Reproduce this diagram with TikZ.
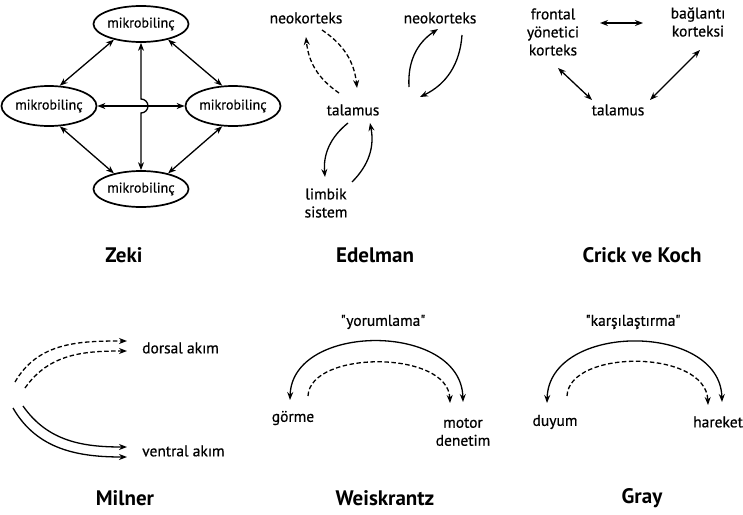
\documentclass[tikz,border=0pt]{standalone}
\usepackage{fontspec}
\setmainfont{PT Sans}
\newfontfamily\medfont{PT Sans}[FakeBold=0.6]
\usetikzlibrary{arrows.meta,shapes.geometric}
\begin{document}
\begin{tikzpicture}[x=1pt,y=1pt,
  tip/.tip={Stealth[length=8pt,width=6pt]},
  arr/.style={line width=1.3pt,-tip},
  darr/.style={line width=1.3pt,tip-tip},
  dsh/.style={dash pattern=on 4.5pt off 2.5pt},
  lbl/.style={font=\medfont\fontsize{15.5}{18}\selectfont, inner sep=1pt, align=center},
  ttl/.style={font=\bfseries\fontsize{21}{22}\selectfont, inner sep=0pt},
  mb/.style={ellipse, draw, line width=1.7pt, inner sep=0pt, font=\medfont\fontsize{14}{16}\selectfont}
]
\useasboundingbox (0,0) rectangle (743,-514);
% ---------------- Zeki
\node[mb, minimum width=88pt, minimum height=36pt] (zt) at (141,-24) {mikrobilinç};
\node[mb, minimum width=94pt, minimum height=40pt] (zl) at (49,-106) {mikrobilinç};
\node[mb, minimum width=94pt, minimum height=40pt] (zr) at (233,-106) {mikrobilinç};
\node[mb, minimum width=88pt, minimum height=36pt] (zb) at (141,-189) {mikrobilinç};
\draw[darr] (zt.-150) -- (zl.62);
\draw[darr] (zt.-30) -- (zr.118);
\draw[darr] (zb.150) -- (zl.-62);
\draw[darr] (zb.30) -- (zr.-118);
\draw[darr] (zl.east) -- (zr.west);
\draw[darr] (zt.south) -- (141,-99) arc[start angle=90,end angle=-90,radius=7] -- (zb.north);
\node[ttl] (tzeki) at (124,-255) {Zeki};
% ---------------- Edelman
\node[lbl] (neoL) at (306,-18) {neokorteks};
\node[lbl] (neoR) at (440,-18) {neokorteks};
\node[lbl] (talE) at (353,-110) {talamus};
\node[lbl] (limb) at (326,-203) {limbik\\sistem};
\coordinate (e1a) at (339,-93); \coordinate (e1b) at (306,-37);
\coordinate (e2a) at (322,-30); \coordinate (e2b) at (357,-88);
\coordinate (e3a) at (409,-87); \coordinate (e3b) at (438,-29);
\coordinate (e4a) at (462,-35); \coordinate (e4b) at (420,-97);
\coordinate (e5a) at (348,-123); \coordinate (e5b) at (325,-177);
\coordinate (e6a) at (352,-182); \coordinate (e6b) at (370,-123);
\draw[arr,dsh] (e1a) to[bend left=25] (e1b);
\draw[arr,dsh] (e2a) to[bend left=25] (e2b);
\draw[arr] (e3a) to[bend left=30] (e3b);
\draw[arr] (e4a) to[bend left=30] (e4b);
\draw[arr] (e5a) to[bend right=28] (e5b);
\draw[arr] (e6a) to[bend right=28] (e6b);
\node[ttl] (tedel) at (375,-255) {Edelman};
% ---------------- Crick ve Koch
\node[lbl] (fr) at (553,-32) {frontal\\yönetici\\korteks};
\node[lbl] (bag) at (698,-22) {bağlantı\\korteksi};
\node[lbl] (talC) at (618,-110) {talamus};
\coordinate (c1a) at (600,-23); \coordinate (c1b) at (643,-23);
\coordinate (c2a) at (558,-68); \coordinate (c2b) at (592,-100);
\coordinate (c3a) at (700,-50); \coordinate (c3b) at (650,-100);
\draw[darr] (c1a) -- (c1b);
\draw[darr] (c2a) -- (c2b);
\draw[darr] (c3a) -- (c3b);
\node[ttl] (tcrick) at (642,-255) {Crick ve Koch};
% ---------------- Milner
\node[lbl, anchor=west] (dors) at (141,-348) {dorsal akım};
\node[lbl, anchor=west] (vent) at (141,-451) {ventral akım};
\coordinate (m1a) at (15,-382); \coordinate (m1b) at (127,-341);
\coordinate (m2a) at (25,-388); \coordinate (m2b) at (127,-351);
\coordinate (m3a) at (13,-408); \coordinate (m3b) at (127,-457);
\coordinate (m4a) at (23,-406); \coordinate (m4b) at (127,-447);
\draw[arr,dsh] (m1a) to[out=60,in=180] (m1b);
\draw[arr,dsh] (m2a) to[out=55,in=180] (m2b);
\draw[arr] (m3a) to[out=-60,in=180] (m3b);
\draw[arr] (m4a) to[out=-55,in=180] (m4b);
\node[ttl] (tmil) at (125,-498) {Milner};
% ---------------- Weiskrantz
\node[lbl] (yor) at (383,-322) {\symbol{34}yorumlama\symbol{34}};
\node[lbl] (gor) at (293,-418) {görme};
\node[lbl] (mot) at (463,-432) {motor\\denetim};
\coordinate (w1a) at (290,-400); \coordinate (w1b) at (463,-402);
\coordinate (w2a) at (308,-396); \coordinate (w2b) at (450,-403);
\draw[darr] (w1a) .. controls (292,-322) and (461,-322) .. (w1b);
\draw[arr,dsh] (w2a) .. controls (310,-350) and (448,-350) .. (w2b);
\node[ttl] (twei) at (385,-498) {Weiskrantz};
% ---------------- Gray
\node[lbl] (kar) at (633,-322) {\symbol{34}karşılaştırma\symbol{34}};
\node[lbl] (duy) at (555,-422) {duyum};
\node[lbl, anchor=west] (har) at (692,-422) {hareket};
\coordinate (g1a) at (547,-403); \coordinate (g1b) at (722,-402);
\coordinate (g2a) at (567,-396); \coordinate (g2b) at (708,-405);
\draw[darr] (g1a) .. controls (549,-322) and (720,-322) .. (g1b);
\draw[arr,dsh] (g2a) .. controls (569,-349) and (706,-349) .. (g2b);
\node[ttl] (tgray) at (642,-498) {Gray};
\end{tikzpicture}
\end{document}
